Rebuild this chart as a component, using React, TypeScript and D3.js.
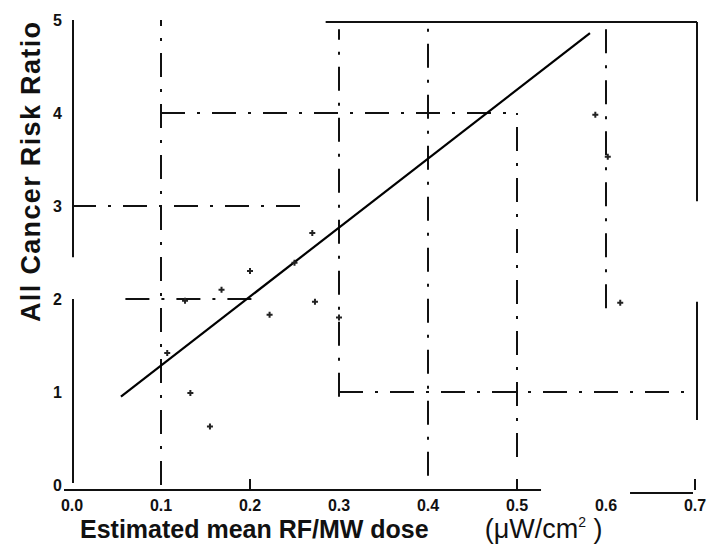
import React from 'react';
import * as d3 from 'd3';

// tick values
const xTicks = [0, 0.1, 0.2, 0.3, 0.4, 0.5, 0.6, 0.7];
const xTickLabels = ['0.0', '0.1', '0.2', '0.3', '0.4', '0.5', '0.6', '0.7'];
const yTicks = [0, 1, 2, 3, 4, 5];
const yTickLabels = ['0', '1', '2', '3', '4', '5'];

// observed points (dose, risk ratio)
const pointX = [0.107, 0.127, 0.133, 0.155, 0.168, 0.2, 0.222, 0.25, 0.27, 0.273, 0.3, 0.588, 0.602, 0.616];
const pointY = [1.42, 1.98, 0.99, 0.63, 2.1, 2.3, 1.83, 2.39, 2.71, 1.97, 1.8, 3.98, 3.53, 1.96];

// fitted regression line
const fitX = [0.055, 0.582];
const fitY = [0.95, 4.86];

// reference grid segments: [value, from, to]
const vGrid = [[0.1, 0, 5], [0.3, 0.95, 4.9], [0.4, 0.1, 5], [0.5, 0.3, 4], [0.6, 1.9, 5]];
const hGrid = [[4, 0.1, 0.5], [3, 0, 0.26], [2, 0.06, 0.21], [1, 0.3, 0.69]];

const W = 710, H = 549;

export default function App() {
  const x = d3.scaleLinear().domain([0, 0.7]).range([72, 695]);
  const y = d3.scaleLinear().domain([0, 5]).range([485, 20]);
  const line = d3.line<number>().x((_, i) => x(fitX[i])).y((_, i) => y(fitY[i]));
  const cross = d3.symbol().type(d3.symbolCross).size(20)();

  return (
    <svg width={W} height={H} style={{ position: 'absolute', left: 0, top: 0, background: '#fff' }}
      fontFamily="Liberation Sans, Arial, sans-serif">
      {/* grid */}
      <g stroke="#111" strokeWidth={2} strokeDasharray="24 12 3 12" fill="none">
        {vGrid.map((g, i) => (
          <line key={'v' + i} x1={x(g[0])} x2={x(g[0])} y1={y(g[1])} y2={y(g[2])} />
        ))}
        {hGrid.map((g, i) => (
          <line key={'h' + i} x1={x(g[1])} x2={x(g[2])} y1={y(g[0])} y2={y(g[0])} />
        ))}
      </g>

      {/* frame */}
      <g stroke="#111" strokeWidth={2} fill="none">
        <line x1={x(0) + 1} x2={x(0) + 1} y1={y(5)} y2={y(2.45)} />
        <line x1={x(0) + 1} x2={x(0) + 1} y1={y(2)} y2={y(0) - 2} />
        <line x1={64} x2={x(0.527)} y1={y(0) + 5} y2={y(0) + 5} />
        <line x1={x(0.627)} x2={x(0.7) - 2} y1={y(0) + 8} y2={y(0) + 8} />
        <line x1={x(0.285)} x2={x(0.7) + 2} y1={y(5) + 2} y2={y(5) + 2} />
        <line x1={x(0.7) + 2} x2={x(0.7) + 2} y1={y(5) + 2} y2={y(3.05)} />
        <line x1={x(0.7) + 2} x2={x(0.7) + 2} y1={y(1.97)} y2={y(0.7)} />
        {[0.2, 0.5, 0.7].map(t => (
          <line key={t} x1={x(t)} x2={x(t)} y1={y(0) + 5} y2={y(0) - 6} />
        ))}
      </g>

      {/* fit */}
      <path d={line(fitX) || ''} stroke="#000" strokeWidth={2.2} fill="none" />

      {/* points */}
      {pointX.map((px, i) => (
        <path key={i} d={cross || ''} transform={`translate(${x(px)},${y(pointY[i])})`} fill="#222" />
      ))}

      {/* tick labels */}
      <g fontSize={16} fontWeight="bold" fill="#111">
        {xTicks.map((t, i) => (
          <text key={t} x={x(t)} y={y(0) + 26} textAnchor="middle">{xTickLabels[i]}</text>
        ))}
        {yTicks.map((t, i) => (
          <text key={t} x={x(0) - 10} y={y(t) + 6} textAnchor="end">{yTickLabels[i]}</text>
        ))}
      </g>

      {/* axis titles */}
      <text x={80} y={538} fontSize={25} fontWeight="bold" fill="#111">
        Estimated mean RF/MW dose
        <tspan dx={56} fontWeight="normal" fontSize={27}>(μW/cm</tspan>
        <tspan dy={-11} fontSize={14} fontWeight="normal">2</tspan>
        <tspan dy={11} fontSize={27} fontWeight="normal"> )</tspan>
      </text>
      <text transform="translate(40,172) rotate(-90)" textAnchor="middle" fontSize={27} fontWeight="bold" fill="#111"
        textLength={300} lengthAdjust="spacing">
        All  Cancer Risk Ratio
      </text>
    </svg>
  );
}
